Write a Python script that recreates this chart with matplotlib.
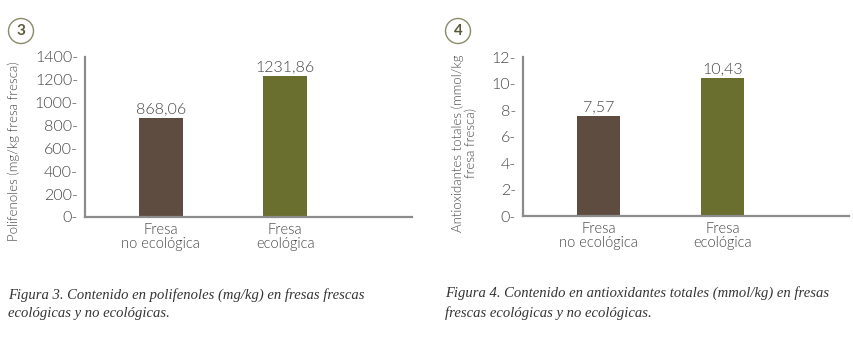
import matplotlib.pyplot as plt
from matplotlib.patches import Circle

# data
categories = ["Fresa\nno ecológica", "Fresa\necológica"]
polifenoles = [868.06, 1231.86]
antioxidantes = [7.57, 10.43]
poli_ticks = [0, 200, 400, 600, 800, 1000, 1200, 1400]
anti_ticks = [0, 2, 4, 6, 8, 10, 12]
bar_colors = ["#5f4c40", "#6a6f2f"]

TXT = "#444444"
AXC = "#8c8c8c"
plt.rcParams['font.family'] = ['Lato', 'DejaVu Sans']
plt.rcParams['font.weight'] = 300
plt.rcParams['axes.labelweight'] = 300

fig = plt.figure(figsize=(8.54, 3.53), dpi=100)


def fmt(v):
    return f"{v:.2f}".replace(".", ",")


def draw(ax, vals, ticks, ylabel, ylabel_x, ylabel_y):
    x = range(len(vals))
    ax.bar(x, vals, width=0.35, color=bar_colors)
    for xi, v in zip(x, vals):
        ax.text(xi, v + ticks[-1] * 0.012, fmt(v), ha="center", va="bottom",
                fontsize=11.5, color=TXT, fontweight=300)
    ax.set_xlim(-0.61, 2.02)
    ax.set_ylim(0, ticks[-1])
    ax.set_yticks(ticks)
    ax.set_yticklabels([f"{t}-" for t in ticks], fontsize=11.5, color=TXT,
                       fontweight=300)
    ax.set_xticks(list(x))
    ax.set_xticklabels(categories, fontsize=10.5, color=TXT, linespacing=1.0,
                       fontweight=300)
    ax.tick_params(axis="both", length=0)
    ax.tick_params(axis="y", pad=5)
    ax.tick_params(axis="x", pad=4)
    for s in ("top", "right"):
        ax.spines[s].set_visible(False)
    for s in ("left", "bottom"):
        ax.spines[s].set_color(AXC)
        ax.spines[s].set_linewidth(1.6)
    ax.set_ylabel(ylabel, fontsize=9.5, color=TXT, linespacing=1.05,
                  fontweight=300)
    ax.yaxis.set_label_coords(ylabel_x, ylabel_y)


ax1 = fig.add_axes([0.0995, 0.3853, 0.383, 0.4533])
draw(ax1, polifenoles, poli_ticks, "Polifenoles (mg/kg fresa fresca)", -0.2, 0.41)

ax2 = fig.add_axes([0.6124, 0.3881, 0.3817, 0.4504])
draw(ax2, antioxidantes, anti_ticks, "Antioxidantes totales (mmol/kg\nfresa fresca)", -0.14, 0.46)

# numbered circles
for cx, num in ((21, "3"), (458, "4")):
    fx, fy = cx / 854, 1 - 31 / 353
    c = Circle((cx, 353 - 31), 12.5, transform=None, fill=False,
               edgecolor="#8a8a6a", linewidth=1.0)
    fig.patches.append(c)
    fig.text(fx, fy, num, ha="center", va="center", fontsize=11,
             fontweight="bold", color="#5a5a3a")

# captions
cap_kw = dict(family="Liberation Serif", style="italic", fontsize=10.5,
              color="#333333", va="top", linespacing=1.55)
fig.text(8 / 854, 1 - 288 / 353,
         "Figura 3. Contenido en polifenoles (mg/kg) en fresas frescas\necológicas y no ecológicas.",
         **cap_kw)
fig.text(445 / 854, 1 - 286 / 353,
         "Figura 4. Contenido en antioxidantes totales (mmol/kg) en fresas\nfrescas ecológicas y no ecológicas.",
         **cap_kw)

fig.savefig("out.png", dpi=100)
